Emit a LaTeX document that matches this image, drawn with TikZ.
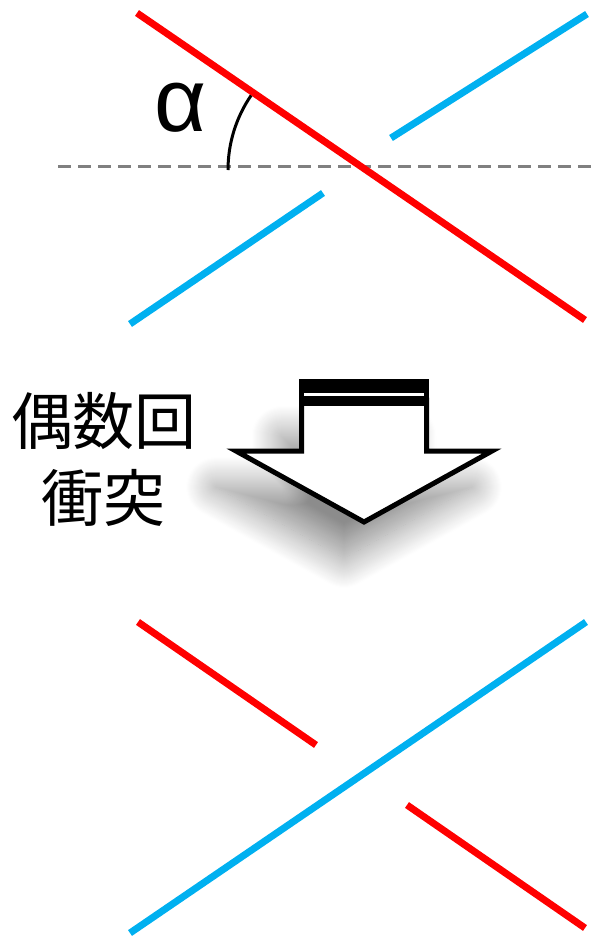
\documentclass[tikz,border=0pt]{standalone}
\usepackage{fontspec}
\newfontfamily\cjk{Noto Sans CJK JP}
\newfontfamily\greekfont{Liberation Sans}
\usetikzlibrary{shadows.blur}
\definecolor{myred}{HTML}{FF0000}
\definecolor{myblue}{HTML}{00B0F0}
\definecolor{mygray}{HTML}{808080}
\tikzset{
  redline/.style={draw=myred, line width=7pt},
  blueline/.style={draw=myblue, line width=7pt},
  dashline/.style={draw=mygray, line width=3pt, dash pattern=on 13pt off 7pt},
  arrowshape/.style={draw=black, fill=white, line width=5pt, line join=miter},
}
\begin{document}
\begin{tikzpicture}[x=1pt,y=-1pt]
\useasboundingbox (0,0) rectangle (598,938);
% top section
\coordinate (r1a) at (137,13);
\coordinate (r1b) at (585,320);
\coordinate (b1a) at (391,138);
\coordinate (b1b) at (587,14);
\coordinate (b2a) at (130,324);
\coordinate (b2b) at (323,193);
\coordinate (da) at (58,166);
\coordinate (db) at (598,166);
\draw[dashline] (da) -- (db);
\draw[redline] (r1a) -- (r1b);
\draw[blueline] (b1a) -- (b1b);
\draw[blueline] (b2a) -- (b2b);
\coordinate (arcstart) at (228,170);
\draw[black, line width=3pt] (arcstart) arc[start angle=180, end angle=214.4, radius=132];
\node[font=\greekfont\fontsize{90}{92}\selectfont, inner sep=0pt] (alpha) at (181,108) {α};
% arrow
\path[arrowshape, blur shadow={shadow xshift=-20pt, shadow yshift=-36pt, shadow blur radius=30pt, shadow blur steps=30, shadow opacity=45}]
  (301.5,400) -- (301.5,451) -- (236,451) -- (364,522) -- (492,451) -- (426.5,451) -- (426.5,400) -- cycle;
\fill[black] (299,379) rectangle (429,406);
\draw[white, line width=3pt] (304,394.5) -- (424,394.5);
% text
\node[font=\cjk\fontsize{62}{77}\selectfont, align=center, inner sep=0pt] (label) at (104,459) {偶数回\\衝突};
% bottom section
\coordinate (r2a) at (138,622);
\coordinate (r2b) at (316,745);
\coordinate (r3a) at (407,805);
\coordinate (r3b) at (585,928);
\coordinate (b3a) at (130,933);
\coordinate (b3b) at (586,622);
\draw[redline] (r2a) -- (r2b);
\draw[redline] (r3a) -- (r3b);
\draw[blueline] (b3a) -- (b3b);
\end{tikzpicture}
\end{document}
